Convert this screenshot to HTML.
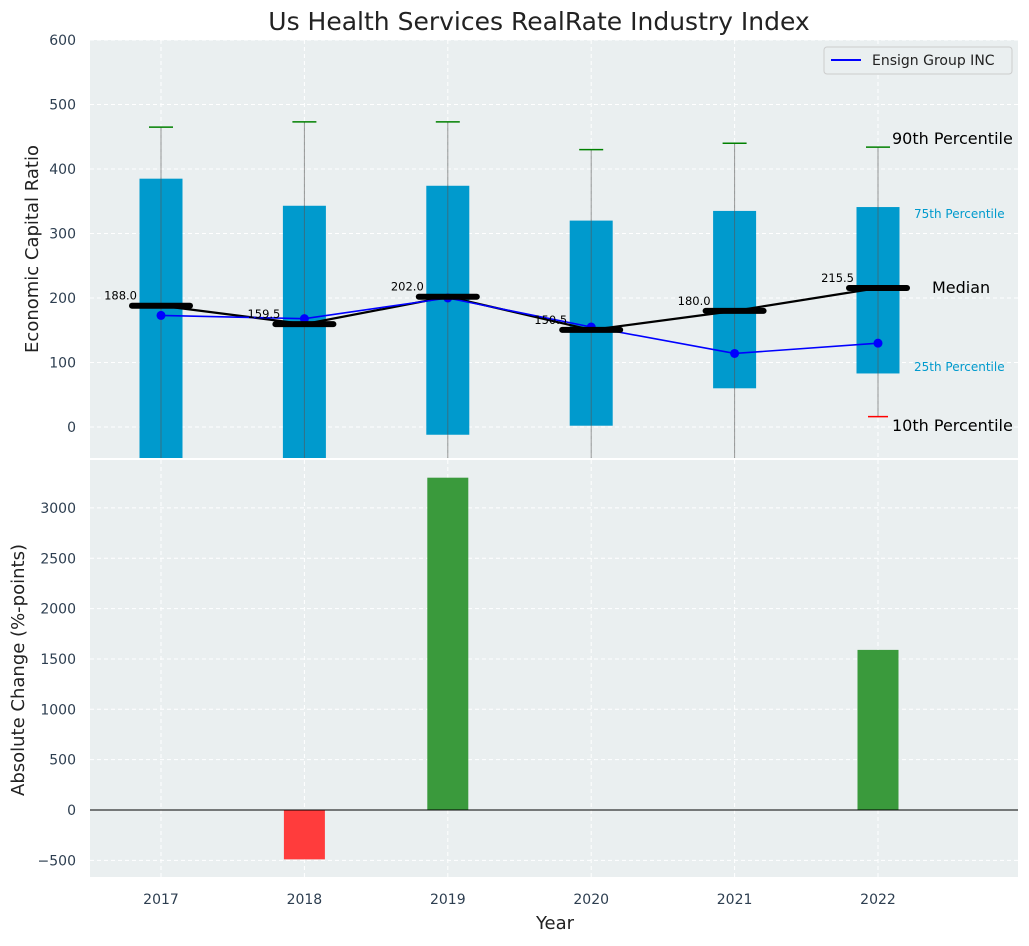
<!DOCTYPE html>
<html><head><meta charset="utf-8"><style>
body{margin:0;background:#fff;font-family:"DejaVu Sans","Liberation Sans",sans-serif;}
svg text{font-family:"DejaVu Sans","Liberation Sans",sans-serif;}
</style></head><body>
<svg id="c" width="1029" height="942" xmlns="http://www.w3.org/2000/svg"></svg>
<script>
const years=[2017,2018,2019,2020,2021,2022];
const p10=[-100,-100,-100,-100,-100,16];
const p25=[-100,-100,-12,2,60,83];
const p75=[385,343,374,320,335,341];
const p90=[465,473,473,430,440,434];
const medians=[188,159.5,202,150.5,180,215.5];
const company=[173,168,200,155,114,130];
const changes=[0,-490,3300,0,0,1590];
const topTicks=[0,100,200,300,400,500,600];
const botTicks=[-500,0,500,1000,1500,2000,2500,3000];

const S=document.getElementById('c');const NS='http://www.w3.org/2000/svg';
function el(t,a,p){const e=document.createElementNS(NS,t);for(const k in a)e.setAttribute(k,a[k]);(p||S).appendChild(e);return e;}
const X=v=>161+(v-2017)*143.4;
const Y1=v=>427-v*0.645;
const Y2=v=>810-v*0.1007;
let b=el('rect',{x:90,y:40,width:928,height:418,fill:'#eaeff0'});

b=el('rect',{x:90,y:460,width:928,height:417,fill:'#eaeff0'});

years.forEach(y=>{el('line',{x1:X(y),x2:X(y),y1:40,y2:458,stroke:'#fff','stroke-dasharray':'4,3'});el('line',{x1:X(y),x2:X(y),y1:460,y2:877,stroke:'#fff','stroke-dasharray':'4,3'});
 const t=el('text',{x:X(y),y:904,'text-anchor':'middle','font-size':14,fill:'#2d3e50'});t.textContent=y;
 });
topTicks.forEach(v=>{el('line',{x1:90,x2:1018,y1:Y1(v),y2:Y1(v),stroke:'#fff','stroke-dasharray':'4,3'});
 const t=el('text',{x:76,y:Y1(v)+5,'text-anchor':'end','font-size':14,fill:'#2d3e50'});t.textContent=v;
 });
botTicks.forEach(v=>{el('line',{x1:90,x2:1018,y1:Y2(v),y2:Y2(v),stroke:'#fff','stroke-dasharray':'4,3'});
 const t=el('text',{x:76,y:Y2(v)+5,'text-anchor':'end','font-size':14,fill:'#2d3e50'});t.textContent=String(v).replace('-','−');
 });
const clip=el('clipPath',{id:'cp'});el('rect',{x:90,y:40,width:928,height:418},clip);
const g=el('g',{'clip-path':'url(#cp)'});
const bw=43;
years.forEach((y,i)=>{
 const r=el('rect',{x:X(y)-bw/2,y:Y1(p75[i]),width:bw,height:Y1(Math.max(p25[i],-60))-Y1(p75[i]),fill:'#009acd'},g);
 
 el('line',{x1:X(y),x2:X(y),y1:Y1(p90[i]),y2:Y1(Math.max(p10[i],-60)),stroke:'#555','stroke-width':1,opacity:0.6},g);
 el('line',{x1:X(y)-12,x2:X(y)+12,y1:Y1(p90[i]),y2:Y1(p90[i]),stroke:'green','stroke-width':1.5},g);
 if(p10[i]>-50)el('line',{x1:X(y)-10,x2:X(y)+10,y1:Y1(p10[i]),y2:Y1(p10[i]),stroke:'red','stroke-width':1.5},g);
});
let pts=years.map((y,i)=>X(y)+','+Y1(medians[i])).join(' ');
el('polyline',{points:pts,fill:'none',stroke:'#000','stroke-width':2.2},g);
pts=years.map((y,i)=>X(y)+','+Y1(company[i])).join(' ');
let l=el('polyline',{points:pts,fill:'none',stroke:'blue','stroke-width':1.6},g);

years.forEach((y,i)=>{
 el('circle',{cx:X(y),cy:Y1(company[i]),r:4.5,fill:'blue'},g);
 el('line',{x1:X(y)-29,x2:X(y)+29,y1:Y1(medians[i]),y2:Y1(medians[i]),stroke:'#000','stroke-width':6,'stroke-linecap':'round'},g);
 const t=el('text',{x:X(y)-24,y:Y1(medians[i])-6,'text-anchor':'end','font-size':11.5,fill:'#000'});t.textContent=medians[i].toFixed(1);
 
});
years.forEach((y,i)=>{if(!changes[i])return;const v=changes[i];
 const r=el('rect',{x:X(y)-20.5,y:Math.min(Y2(v),Y2(0)),width:41,height:Math.abs(Y2(v)-Y2(0)),fill:v>0?'#3a9a3c':'#ff3c3c'});
 });
el('line',{x1:90,x2:1018,y1:Y2(0),y2:Y2(0),stroke:'#000','stroke-width':1});
function tx(x,y,s,fs,c,n,a){const t=el('text',{x:x,y:y,'font-size':fs,fill:c,'text-anchor':a||'start'});t.textContent=s;return t;}
tx(892,144,'90th Percentile',16,'#000','label-90th');
tx(914,218,'75th Percentile',12,'#009acd','label-75th');
tx(932,293,'Median',16,'#000','label-median');
tx(914,371,'25th Percentile',12,'#009acd','label-25th');
tx(892,431,'10th Percentile',16,'#000','label-10th');
tx(539,30,'Us Health Services RealRate Industry Index',25,'#222','chart-title','middle');
tx(555,929,'Year',18,'#222','x-axis-title','middle');
let t=tx(0,0,'Economic Capital Ratio',18,'#222','top-y-axis-title','middle');t.setAttribute('transform','translate(38,249) rotate(-90)');
t=tx(0,0,'Absolute Change (%-points)',18,'#222','bottom-y-axis-title','middle');t.setAttribute('transform','translate(24,670) rotate(-90)');
const lg=el('g',{});
el('rect',{x:824,y:47,width:188,height:27,rx:3,fill:'#eaeff0',stroke:'#ccc'},lg);
el('line',{x1:831,x2:861,y1:60,y2:60,stroke:'blue','stroke-width':2},lg);
const lt=el('text',{x:872,y:65,'font-size':14,fill:'#222'},lg);lt.textContent='Ensign Group INC';
</script>
</body></html>
